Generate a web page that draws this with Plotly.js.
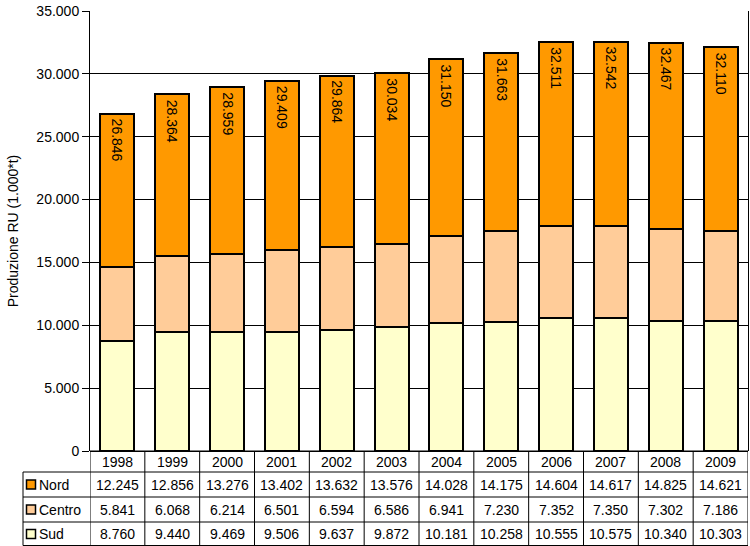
<!DOCTYPE html>
<html>
<head>
<meta charset="utf-8">
<script src="https://cdn.plot.ly/plotly-3.0.1.min.js"></script>
<style>html,body{margin:0;padding:0;background:#fff;}#chart{width:750px;height:546px;}</style>
</head>
<body>
<div id="chart"></div>
<script>
var years = ['1998','1999','2000','2001','2002','2003','2004','2005','2006','2007','2008','2009'];
var nord = [12245,12856,13276,13402,13632,13576,14028,14175,14604,14617,14825,14621];
var centro = [5841,6068,6214,6501,6594,6586,6941,7230,7352,7350,7302,7186];
var sud = [8760,9440,9469,9506,9637,9872,10181,10258,10555,10575,10340,10303];
var totals = [26846,28364,28959,29409,29864,30034,31150,31663,32511,32542,32467,32110];
var seriesNames = ['Nord','Centro','Sud'];
var seriesColors = ['#FF9900','#FFCC99','#FFFFCC'];

function fmt(n){
  var s = String(Math.round(n));
  var out = '';
  while (s.length > 3){ out = '.' + s.slice(-3) + out; s = s.slice(0, -3); }
  return s + out;
}

var W = 750, H = 546;
var mL = 90, mR = 2, mT = 11, mB = 95;
var plotH = H - mT - mB, plotW = W - mL - mR;
function py(p){ return (H - mB - p) / plotH; }   // pixel y -> paper y
function px(p){ return (p - mL) / plotW; }       // pixel x -> paper x

var font = 'Liberation Sans, Arial, sans-serif';
var FS = 14;
var barLine = {color:'#000', width:2};

var traces = [
  {type:'bar', name:'Sud', x:years, y:sud, marker:{color:seriesColors[2], line:barLine}, showlegend:false, hoverinfo:'y'},
  {type:'bar', name:'Centro', x:years, y:centro, marker:{color:seriesColors[1], line:barLine}, showlegend:false, hoverinfo:'y'},
  {type:'bar', name:'Nord', x:years, y:nord, marker:{color:seriesColors[0], line:barLine}, showlegend:false, hoverinfo:'y'}
];

var shapes = [], annotations = [];
var rowLines = [472, 497, 522, 545.5];
var tableTop = 451;
shapes.push({type:'line', xref:'paper', yref:'paper', x0:0, x1:1, y0:py(tableTop), y1:py(tableTop), line:{color:'#000', width:1}});
rowLines.forEach(function(r){
  shapes.push({type:'line', xref:'paper', yref:'paper', x0:px(23), x1:1, y0:py(r), y1:py(r), line:{color:'#000', width:1}});
});
for (var k = 0; k <= years.length; k++){
  shapes.push({type:'line', xref:'x', yref:'paper', x0:k-0.5, x1:k-0.5, y0:py(tableTop), y1:py(545.5), line:{color:'#000', width:1}});
}
shapes.push({type:'line', xref:'paper', yref:'paper', x0:px(23), x1:px(23), y0:py(472), y1:py(545.5), line:{color:'#000', width:1}});

years.forEach(function(yr, i){
  annotations.push({xref:'x', yref:'paper', x:i, y:py(461.5), text:yr, showarrow:false, xanchor:'center', yanchor:'middle', font:{family:font, size:FS, color:'#000'}});
});
var rowData = [nord, centro, sud];
var rowCenters = [484.5, 509.5, 534];
rowData.forEach(function(arr, r){
  arr.forEach(function(v, i){
    annotations.push({xref:'x', yref:'paper', x:i, y:py(rowCenters[r]), text:fmt(v), showarrow:false, xanchor:'center', yanchor:'middle', font:{family:font, size:FS, color:'#000'}});
  });
  shapes.push({type:'rect', xref:'paper', yref:'paper', x0:px(26.5), x1:px(35.5), y0:py(rowCenters[r]-4.5), y1:py(rowCenters[r]+4.5), fillcolor:seriesColors[r], line:{color:'#000', width:1.5}});
  annotations.push({xref:'paper', yref:'paper', x:px(37), y:py(rowCenters[r]), text:seriesNames[r], showarrow:false, xanchor:'left', yanchor:'middle', font:{family:font, size:FS, color:'#000'}});
});
totals.forEach(function(t, i){
  annotations.push({xref:'x', yref:'y', x:i, y:t, text:fmt(t), textangle:90, showarrow:false, xanchor:'center', yanchor:'top', yshift:-3, font:{family:font, size:FS, color:'#000'}});
});

var layout = {
  width:W, height:H,
  margin:{l:mL, r:mR, t:mT, b:mB, pad:0},
  paper_bgcolor:'#fff', plot_bgcolor:'#fff',
  separators:',.',
  barmode:'stack',
  bargap:0.38,
  font:{family:font, size:FS, color:'#000'},
  xaxis:{type:'category', range:[-0.5, 11.5], showticklabels:false, ticks:'', showgrid:false, zeroline:false, showline:false, fixedrange:true},
  yaxis:{range:[0, 35000], dtick:5000, tickformat:',d', showgrid:true, gridcolor:'#000', gridwidth:1,
         zeroline:true, zerolinecolor:'#000', zerolinewidth:1,
         showline:true, linecolor:'#000', linewidth:1, mirror:true,
         ticks:'outside', ticklen:7, tickcolor:'#000', tickfont:{family:font, size:FS, color:'#000'},
         title:{text:'Produzione RU (1.000*t)', font:{family:font, size:FS, color:'#000'}, standoff:14}},
  shapes:shapes,
  annotations:annotations
};

Plotly.newPlot('chart', traces, layout, {displayModeBar:false, staticPlot:true});
</script>
</body>
</html>
